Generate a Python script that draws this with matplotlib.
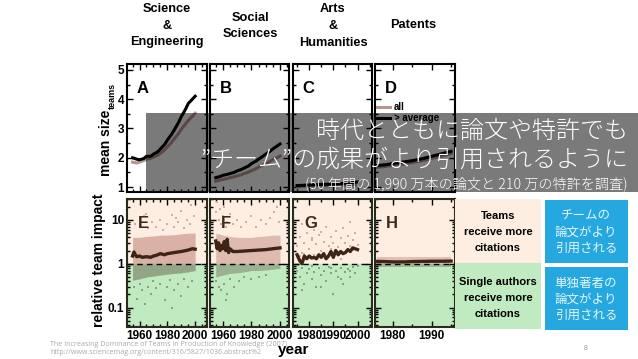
import numpy as np
import matplotlib
matplotlib.use("Agg")
import matplotlib.pyplot as plt
from matplotlib.patches import Rectangle
from matplotlib.ticker import MultipleLocator, LogLocator, NullFormatter

plt.rcParams['font.family'] = ['Liberation Sans', 'Noto Sans CJK JP', 'DejaVu Sans']

# ---- top row: mean team size ----
yrs_ab = [1955, 1958, 1960, 1963, 1965, 1968, 1970, 1973, 1975, 1978,
          1980, 1983, 1985, 1988, 1990, 1993, 1995, 1998, 2000]
A_above = [2.0, 1.95, 1.93, 1.97, 2.05, 2.05, 2.12, 2.2, 2.3, 2.45,
           2.6, 2.8, 2.95, 3.2, 3.4, 3.65, 3.85, 4.0, 4.1]
A_all = [1.85, 1.82, 1.85, 1.9, 1.95, 1.98, 2.02, 2.08, 2.15, 2.27,
         2.37, 2.52, 2.65, 2.82, 2.97, 3.15, 3.27, 3.42, 3.52]
B_above = [1.32, 1.36, 1.4, 1.43, 1.46, 1.5, 1.55, 1.6, 1.65, 1.72,
           1.8, 1.88, 1.95, 2.05, 2.12, 2.22, 2.3, 2.4, 2.47]
B_all = [1.2, 1.24, 1.26, 1.29, 1.32, 1.35, 1.38, 1.42, 1.46, 1.51,
         1.56, 1.62, 1.68, 1.75, 1.8, 1.88, 1.94, 2.0, 2.06]
yrs_c = [1975, 1980, 1985, 1990, 1995, 2000]
C_above = [1.05, 1.07, 1.09, 1.1, 1.13, 1.17]
C_all = [1.02, 1.03, 1.04, 1.05, 1.06, 1.08]
yrs_d = [1975, 1978, 1980, 1983, 1985, 1988, 1990, 1993, 1995]
D_above = [1.72, 1.76, 1.8, 1.86, 1.9, 1.98, 2.05, 2.15, 2.22]
D_all = [1.66, 1.7, 1.74, 1.79, 1.84, 1.91, 1.98, 2.07, 2.14]

# ---- bottom row: relative team impact ----
E_yrs = [1955, 1956, 1957, 1958, 1960, 1962, 1965, 1968, 1970, 1972,
         1975, 1978, 1980, 1985, 1990, 1995, 1998, 2000]
E_rti = [1.5, 1.85, 1.6, 1.45, 1.5, 1.4, 1.45, 1.4, 1.5, 1.55,
         1.7, 1.6, 1.7, 1.8, 1.9, 2.05, 2.2, 2.15]
F_yrs = [1955, 1956, 1957, 1958, 1959, 1960, 1961, 1962, 1963, 1964,
         1965, 1967, 1970, 1975, 1980, 1985, 1990, 1995, 2000]
F_rti = [3.3, 2.2, 3.0, 2.0, 2.6, 2.2, 3.2, 2.0, 3.6, 1.8,
         2.2, 1.9, 1.9, 1.95, 2.0, 2.05, 2.1, 2.2, 2.3]
G_yrs = list(range(1975, 2001))
G_rti = [1.6, 1.2, 1.0, 1.5, 1.3, 1.5, 1.35, 1.4, 1.3, 1.6, 1.4, 1.7, 1.3,
         1.5, 1.9, 1.4, 2.0, 1.6, 1.9, 1.7, 1.8, 2.1, 1.9, 2.3, 2.2, 2.1]
H_yrs = [1976, 1978, 1980, 1983, 1985, 1988, 1990, 1993, 1995]
H_rti = [1.13, 1.12, 1.1, 1.1, 1.12, 1.13, 1.14, 1.14, 1.15]

# dense part of the paper clouds (upper / lower edge per year)
band_yrs = [1955, 1960, 1965, 1970, 1975, 1980, 1985, 1990, 1995, 2000]
E_hi = [4.0, 4.0, 4.2, 4.3, 4.5, 4.5, 4.6, 4.8, 5.0, 5.0]
E_lo = [0.42, 0.45, 0.5, 0.52, 0.55, 0.58, 0.6, 0.62, 0.65, 0.7]
F_hi = [5.0, 4.5, 4.2, 4.0, 4.0, 4.0, 4.2, 4.3, 4.5, 4.5]
F_lo = [0.5, 0.55, 0.6, 0.62, 0.65, 0.7, 0.7, 0.72, 0.75, 0.78]
H_band_yrs = [1976, 1995]
H_hi = [1.4, 1.4]
H_lo = [0.85, 0.85]

# scattered points outside the dense part
E_px = [1957, 1960, 1963, 1966, 1969, 1972, 1975, 1977, 1980, 1983, 1985,
        1988, 1990, 1992, 1994, 1996, 1997, 1999, 1965, 1986]
E_py = [8, 7, 12, 6.5, 9, 7, 10, 6, 8, 13, 7, 9, 16, 6.5, 10, 8, 22, 12, 14, 11]
E_gx = [1956, 1958, 1960, 1962, 1964, 1966, 1968, 1970, 1972, 1975, 1978,
        1980, 1982, 1985, 1988, 1990, 1992, 1995, 1998, 1983]
E_gy = [0.3, 0.16, 0.35, 0.25, 0.12, 0.3, 0.2, 0.4, 0.28, 0.35, 0.15,
        0.3, 0.42, 0.25, 0.35, 0.18, 0.45, 0.3, 0.4, 0.1]
F_px = [1955, 1956, 1957, 1958, 1959, 1960, 1961, 1962, 1963, 1965, 1967,
        1970, 1973, 1976, 1980, 1983, 1987, 1990, 1993, 1996, 1999, 1998]
F_py = [15, 25, 10, 18, 8, 12, 20, 7, 9, 14, 8, 10, 7, 9, 12, 7, 10, 8, 11, 15, 9, 20]
F_gx = [1955, 1957, 1959, 1961, 1963, 1965, 1968, 1971, 1975, 1980, 1985, 1990, 1962]
F_gy = [0.4, 0.3, 0.25, 0.35, 0.2, 0.45, 0.3, 0.4, 0.5, 0.45, 0.5, 0.55, 0.15]
G_px = [1975, 1976, 1977, 1978, 1979, 1980, 1981, 1982, 1983, 1984, 1985,
        1986, 1987, 1988, 1989, 1990, 1991, 1992, 1993, 1994, 1995, 1996,
        1997, 1998, 1999, 2000, 1976, 1978, 1980, 1982, 1984, 1986, 1988,
        1990, 1992, 1994, 1996, 1998, 1977, 1981, 1985, 1989, 1993, 1997]
G_py = [2.5, 4, 1.8, 3, 5, 2.2, 3.5, 6, 2.8, 4.5, 2, 3.2, 7, 2.6, 4, 3,
        5.5, 2.4, 3.8, 6.5, 2.9, 4.2, 9, 3.4, 5, 2.7, 1.5, 1.7, 1.4, 1.6,
        1.5, 1.8, 1.6, 1.7, 1.9, 1.8, 2.0, 2.1, 8, 3.9, 5.2, 2.2, 1.3, 2.5]
G_gx = [1975, 1976, 1977, 1978, 1979, 1980, 1981, 1982, 1983, 1984, 1985,
        1986, 1987, 1988, 1989, 1990, 1991, 1992, 1993, 1994, 1995, 1996,
        1997, 1998, 1999, 2000, 1977, 1981, 1985, 1989, 1993, 1997]
G_gy = [0.7, 0.5, 0.8, 0.35, 0.6, 0.75, 0.45, 0.65, 0.3, 0.8, 0.55, 0.7,
        0.4, 0.85, 0.6, 0.2, 0.7, 0.5, 0.8, 0.35, 0.65, 0.75, 0.5, 0.85,
        0.6, 0.9, 0.25, 0.9, 0.3, 0.8, 0.45, 0.7]

headers = ["Science\n&\nEngineering", "Social\nSciences", "Arts\n&\nHumanities", "Patents"]
top_letters = ["A", "B", "C", "D"]
bot_letters = ["E", "F", "G", "H"]

W, H = 638, 359
def box(x0, y0, x1, y1):
    return [x0 / W, 1 - y1 / H, (x1 - x0) / W, (y1 - y0) / H]

PINK_LINE = '#b89690'
PEACH = '#fdeee1'
GREEN = '#c0ebc0'
DOT_PINK = '#d6ab9f'
DOT_GREEN = '#8f9e80'
DARK = '#3e2416'

fig = plt.figure(figsize=(6.38, 3.59), dpi=100)
xspans = [(127, 207), (210, 289), (293, 372), (375, 455)]
xlims = [(1951, 2008.5), (1951, 2006.3), (1973.3, 2006), (1975.4, 1996)]
top_data = [(yrs_ab, A_above, A_all), (yrs_ab, B_above, B_all),
            (yrs_c, C_above, C_all), (yrs_d, D_above, D_all)]
bot_lines = [(E_yrs, E_rti), (F_yrs, F_rti), (G_yrs, G_rti), (H_yrs, H_rti)]
bands = [(band_yrs, E_hi, E_lo, 0.9), (band_yrs, F_hi, F_lo, 0.75),
         None, (H_band_yrs, H_hi, H_lo, 0.7)]
pts = [(E_px, E_py, E_gx, E_gy), (F_px, F_py, F_gx, F_gy),
       (G_px, G_py, G_gx, G_gy), ([], [], [], [])]

def style(ax, major, minor):
    ax.xaxis.set_major_locator(MultipleLocator(major))
    ax.xaxis.set_minor_locator(MultipleLocator(minor))
    ax.tick_params(which='both', direction='in', top=True, right=True,
                   labelsize=8.5, pad=2, width=1)
    ax.tick_params(which='major', length=4)
    ax.tick_params(which='minor', length=2)
    for s in ax.spines.values():
        s.set_linewidth(1.5)
    for lab in ax.get_xticklabels() + ax.get_yticklabels():
        lab.set_fontweight('bold')

for i in range(4):
    x0, x1 = xspans[i]
    major = 20 if i < 2 else 10

    # top
    ax = fig.add_axes(box(x0, 64, x1, 192))
    yrs, above, allv = top_data[i]
    ax.plot(yrs, allv, color=PINK_LINE, lw=2.2, label='all')
    ax.plot(yrs, above, color='black', lw=2.2, label='> average')
    ax.set_xlim(*xlims[i])
    ax.set_ylim(0.83, 5.2)
    ax.yaxis.set_major_locator(MultipleLocator(1))
    ax.yaxis.set_minor_locator(MultipleLocator(0.5))
    ax.set_xticklabels([])
    style(ax, major, 5)
    if i > 0:
        ax.set_yticklabels([])
    ax.text(0.12, 0.87, top_letters[i], transform=ax.transAxes, fontsize=12,
            fontweight='bold', va='top')
    if i == 3:
        ax.legend(loc='upper left', bbox_to_anchor=(-0.02, 0.73), frameon=False,
                  prop={'size': 7, 'weight': 'bold'}, handlelength=1.3,
                  handletextpad=0.4, labelspacing=0.1, borderaxespad=0)

    # bottom
    ax = fig.add_axes(box(x0, 199, x1, 327))
    ax.set_yscale('log')
    ax.set_xlim(*xlims[i])
    ax.set_ylim(0.036, 30)
    ax.axhspan(1, 100, color=PEACH, zorder=0)
    ax.axhspan(0.001, 1, color=GREEN, zorder=0)
    if bands[i] is not None:
        by, hi, lo, a = bands[i]
        ax.fill_between(by, 1, hi, color=DOT_PINK, alpha=a, lw=0, zorder=1)
        ax.fill_between(by, lo, 1, color=DOT_GREEN, alpha=a, lw=0, zorder=1)
    px, py, gx, gy = pts[i]
    ax.scatter(px, py, s=4, marker='s', color=DOT_PINK, lw=0, zorder=2)
    ax.scatter(gx, gy, s=4, marker='s', color=DOT_GREEN, lw=0, zorder=2)
    ax.axhline(1, color='black', lw=1, ls=(0, (4, 3)), zorder=3)
    ly, lv = bot_lines[i]
    ax.plot(ly, lv, color=DARK, lw=2.4, zorder=4)
    ax.yaxis.set_minor_locator(LogLocator(base=10, subs=np.arange(2, 10)))
    ax.yaxis.set_minor_formatter(NullFormatter())
    ax.set_yticks([0.1, 1, 10])
    ax.set_yticklabels(['0.1', '1', '10'])
    style(ax, major, 5)
    for s in ax.spines.values():
        s.set_color('#2b2b1c')
    if i > 0:
        ax.set_yticklabels([])
    ax.text(0.14, 0.87, bot_letters[i], transform=ax.transAxes, fontsize=12,
            fontweight='bold', va='top', color='#3a2a20', zorder=5)

# overlay layer in pixel coordinates
ov = fig.add_axes([0, 0, 1, 1], zorder=10)
ov.set_xlim(0, W)
ov.set_ylim(H, 0)
ov.axis('off')
ov.patch.set_alpha(0)

hx = [167, 250, 333, 413]
hy = [26, 26, 26, 25]
for x, y, t in zip(hx, hy, headers):
    ov.text(x, y, t, ha='center', va='center', fontsize=9.2, fontweight='bold',
            linespacing=1.5)

ov.text(106, 143, 'mean size', rotation=90, ha='center', va='center',
        fontsize=10, fontweight='bold')
ov.text(112, 96, 'teams', rotation=90, ha='center', va='center',
        fontsize=6.5, fontweight='bold')
ov.text(99, 260, 'relative team impact', rotation=90, ha='center', va='center',
        fontsize=10, fontweight='bold')
ov.text(294, 350, 'year', ha='center', va='center', fontsize=11, fontweight='bold')

ov.add_patch(Rectangle((146, 113), W - 146, 79, facecolor='black', alpha=0.52, lw=0))
jp = ['Noto Sans CJK JP', 'DejaVu Sans']
ov.text(628, 131, '時代とともに論文や特許でも', ha='right', va='center',
        fontsize=17.3, color='white', family=jp, fontweight='light')
ov.text(628, 160, '”チーム”の成果がより引用されるように', ha='right', va='center',
        fontsize=17.3, color='white', family=jp, fontweight='light')
ov.text(628, 184, '(50 年間の 1,990 万本の論文と 210 万の特許を調査)', ha='right',
        va='center', fontsize=10.2, color='white', family=jp, fontweight='light')

ov.add_patch(Rectangle((455, 199), 86, 64, facecolor=PEACH, lw=0))
ov.add_patch(Rectangle((455, 263), 86, 66, facecolor=GREEN, lw=0))
ov.text(498, 232, 'Teams\nreceive more\ncitations', ha='center', va='center',
        fontsize=8, fontweight='bold', linespacing=1.75)
ov.text(498, 298, 'Single authors\nreceive more\ncitations', ha='center', va='center',
        fontsize=8, fontweight='bold', linespacing=1.75)

BLUE = '#25a8df'
ov.add_patch(Rectangle((545, 200), 83, 63, facecolor=BLUE, lw=0))
ov.add_patch(Rectangle((545, 267), 83, 63, facecolor=BLUE, lw=0))
ov.text(586, 232, 'チームの\n論文がより\n引用される', ha='center', va='center',
        fontsize=9, color='#e8f6fc', family=jp, linespacing=1.3)
ov.text(586, 299, '単独著者の\n論文がより\n引用される', ha='center', va='center',
        fontsize=9, color='#e8f6fc', family=jp, linespacing=1.3)

ov.text(50, 344, 'The Increasing Dominance of Teams in Production of Knowledge (2007)',
        ha='left', va='center', fontsize=5.1, color='#aaaaaa', family=['Open Sans'])
ov.text(50, 353, 'http://www.sciencemag.org/content/316/5827/1036.abstract%2',
        ha='left', va='center', fontsize=5.1, color='#aaaaaa', family=['Open Sans'])
ov.text(586, 349, '8', ha='center', va='center', fontsize=5, color='#999999')

fig.savefig('out.png', dpi=100)
